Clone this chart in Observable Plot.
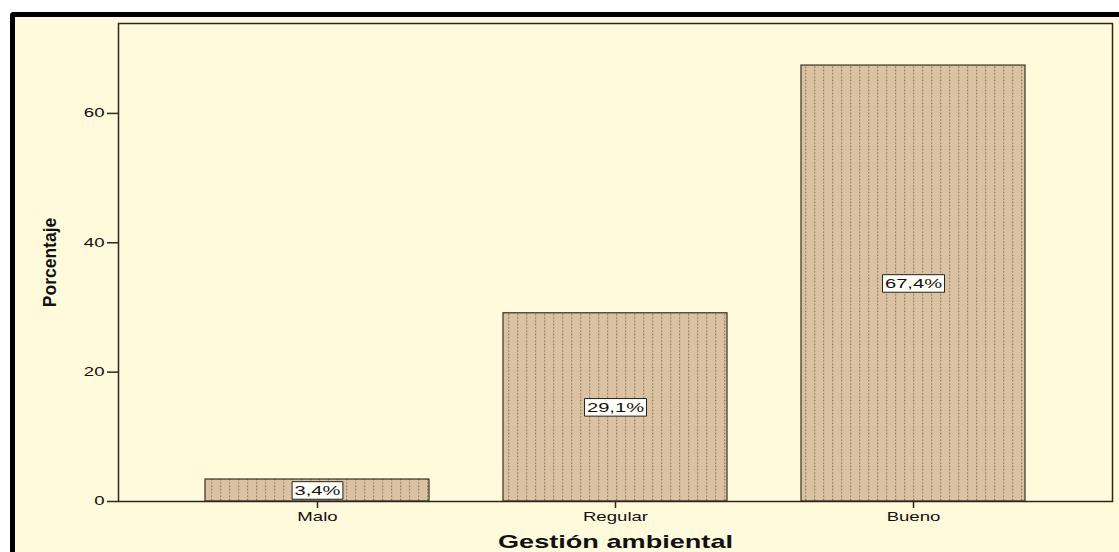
<!DOCTYPE html>
<html><head><meta charset="utf-8">
<script src="https://cdn.jsdelivr.net/npm/d3@7"></script>
<script src="https://cdn.jsdelivr.net/npm/@observablehq/plot@0.6"></script>
<style>
html,body{margin:0;padding:0;background:#fff;}
#wrap{position:relative;width:1119px;height:552px;overflow:hidden;}
#panel{position:absolute;left:10px;top:12px;width:1130px;height:560px;background:#FFFADC;border-top:5px solid #000;border-left:5px solid #000;border-top-left-radius:4px;box-sizing:border-box;}
#chart{position:absolute;left:0;top:0;}
</style></head><body>
<div id="wrap"><div id="panel"></div><div id="chart"></div></div>
<script>
const categories = ["Malo", "Regular", "Bueno"];
const percentages = [3.4, 29.1, 67.4];
const labels = ["3,4%", "29,1%", "67,4%"];
const yTicks = [0, 20, 40, 60];
const xTitle = "Gestión ambiental";
const yTitle = "Porcentaje";

const data = categories.map((c, i) => ({category: c, value: percentages[i], label: labels[i]}));
const STRETCH = 1.55;

const plot = Plot.plot({
  width: 1119, height: 552,
  marginLeft: 118, marginRight: 7, marginTop: 23, marginBottom: 51,
  style: {background: "transparent", fontFamily: "'Liberation Sans', Arial, sans-serif", fontSize: "12px", color: "#111"},
  x: {domain: categories, paddingInner: 0.25, paddingOuter: 0.29},
  y: {domain: [0, 73.9]},
  marks: [
    Plot.barY(data, {x: "category", y: "value", fill: "url(#dotpat)", stroke: "#3a2f22", strokeWidth: 1.2}),
    Plot.frame({stroke: "#2e271d", strokeWidth: 1.5}),
    Plot.axisY({ticks: yTicks, tickSize: 11, tickPadding: 3, label: null, stroke: "#2e271d", strokeWidth: 1.5}),
    Plot.axisX({tickSize: 7, tickPadding: 4, label: null, stroke: "#2e271d", strokeWidth: 1.5}),
    Plot.text(data, {x: "category", y: d => d.value / 2, text: "label", fontSize: 13, fill: "#111"}),
    Plot.text([yTitle], {text: d => d, frameAnchor: "left", textAnchor: "middle", rotate: -90, dx: -68, fontSize: 17.5, fontWeight: "bold", fill: "#111"}),
    Plot.text([xTitle], {text: d => d, frameAnchor: "bottom", dy: 46, fontSize: 17.5, fontWeight: "bold", fill: "#111"})
  ]
});

document.getElementById("chart").appendChild(plot);
const svg = plot.tagName.toLowerCase() === "svg" ? plot : plot.querySelector("svg");
const ns = "http://www.w3.org/2000/svg";
const defs = document.createElementNS(ns, "defs");
defs.innerHTML = '<pattern id="dotpat" patternUnits="userSpaceOnUse" width="9" height="3.3">' +
  '<rect width="9" height="3.3" fill="#DAC2A2"/>' +
  '<rect x="4" y="0.5" width="1.2" height="1.4" fill="#85735f"/></pattern>';
svg.insertBefore(defs, svg.firstChild);

// horizontal stretch of the text, as in the reference
svg.querySelectorAll("text").forEach(t => {
  const tr = t.getAttribute("transform") || "";
  if (tr.includes("rotate")) return;
  const x = t.getAttribute("x");
  if (x != null) t.setAttribute("x", +x / STRETCH);
  t.setAttribute("transform", (tr + " scale(" + STRETCH + ",1)").trim());
});

// boxed value labels
svg.querySelectorAll("text").forEach(t => {
  if (!labels.includes(t.textContent.trim())) return;
  const b = t.getBBox();
  const r = document.createElementNS(ns, "rect");
  r.setAttribute("x", b.x - 1.6);
  r.setAttribute("y", b.y - 1.5);
  r.setAttribute("width", b.width + 3.2);
  r.setAttribute("height", b.height + 3);
  const tr = t.getAttribute("transform");
  if (tr) r.setAttribute("transform", tr);
  r.setAttribute("fill", "#fffff8");
  r.setAttribute("stroke", "#222");
  r.setAttribute("stroke-width", "1");
  r.setAttribute("vector-effect", "non-scaling-stroke");
  t.parentNode.insertBefore(r, t);
});
</script>
</body></html>
